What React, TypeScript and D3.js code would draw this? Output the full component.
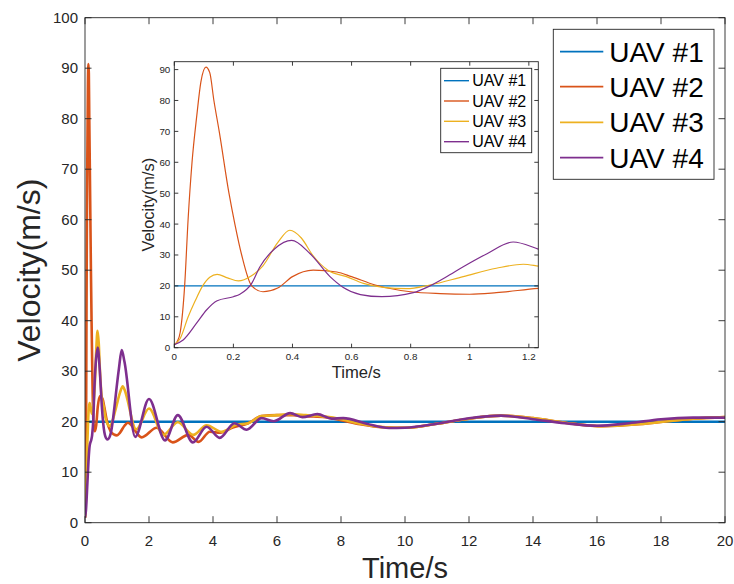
import React from 'react';
import * as d3 from 'd3';

const seriesNames = ['UAV #1', 'UAV #2', 'UAV #3', 'UAV #4'];
const seriesColors = ['#0072BD', '#D95319', '#EDB120', '#7E2F8E'];

const uav1T = [0, 20];
const uav1V = [20, 20];

const uav2T = [0, 0.01, 0.02, 0.035, 0.047, 0.06, 0.076, 0.09, 0.107, 0.12, 0.134, 0.152, 0.185, 0.205, 0.228, 0.262, 0.3, 0.35, 0.4, 0.47, 0.55, 0.6, 0.68, 0.8, 0.9, 1.0, 1.09, 1.232, 1.34, 1.77, 2.24, 2.74, 3.23, 3.55, 3.9, 4.22, 4.64, 5.1, 5.52, 6.0, 6.5, 6.9, 7.5, 8.0, 8.6, 9.3, 10.0, 11.0, 12.0, 13.0, 14.0, 15.0, 16.2, 17.5, 19.0, 20.0];
const uav2V = [1, 2, 5, 20, 42, 60, 75, 86, 90.8, 89, 80, 70, 50, 40, 30, 20, 18.1, 19.3, 23.0, 25.1, 24.5, 23.0, 20.3, 18.1, 17.5, 17.3, 17.8, 19.2, 19.8, 16.9, 18.8, 15.9, 17.4, 16.0, 18.0, 17.8, 18.9, 19.7, 21.1, 21.3, 21.3, 21.1, 20.9, 20.3, 19.5, 18.9, 18.8, 19.6, 20.6, 21.2, 20.7, 19.8, 19.1, 19.6, 20.6, 20.9];

const uav3T = [0, 0.02, 0.047, 0.07, 0.096, 0.12, 0.145, 0.18, 0.217, 0.26, 0.3, 0.35, 0.391, 0.43, 0.468, 0.521, 0.583, 0.64, 0.707, 0.786, 0.865, 0.978, 1.09, 1.181, 1.232, 1.6, 2.0, 2.45, 2.9, 3.38, 3.8, 4.27, 4.73, 5.1, 5.52, 6.0, 6.41, 6.9, 7.5, 8.0, 8.6, 9.4, 10.0, 11.0, 12.0, 13.0, 14.0, 15.0, 16.1, 17.5, 19.0, 20.0];
const uav3V = [1, 3, 10, 15, 20, 22.8, 23.7, 22.6, 21.6, 23.2, 26.5, 34.0, 38.0, 35.5, 30.0, 25.0, 23.0, 20.8, 19.5, 19.1, 20.3, 23.0, 25.7, 27.0, 26.4, 18.5, 22.6, 17.4, 19.9, 17.4, 19.3, 18.0, 19.4, 19.7, 21.1, 21.3, 21.5, 21.3, 21.0, 20.5, 19.6, 18.9, 18.8, 19.6, 20.6, 21.2, 20.7, 19.8, 19.1, 19.6, 20.6, 20.9];

const uav4T = [0, 0.03, 0.076, 0.109, 0.145, 0.2, 0.222, 0.262, 0.29, 0.34, 0.397, 0.459, 0.527, 0.572, 0.63, 0.702, 0.809, 0.865, 0.92, 0.978, 1.06, 1.147, 1.232, 1.57, 2.0, 2.5, 2.9, 3.37, 3.8, 4.21, 4.67, 5.05, 5.52, 5.9, 6.41, 6.79, 7.26, 7.71, 8.07, 8.8, 9.5, 10.0, 11.0, 12.0, 13.0, 14.0, 15.0, 16.0, 17.0, 18.0, 19.0, 20.0];
const uav4V = [1, 2.5, 8, 12.2, 15.2, 16.5, 17.3, 20.8, 26.2, 32.0, 34.7, 30.5, 23.0, 19.5, 17.2, 16.5, 17.8, 20.0, 22.9, 26.2, 30.5, 34.2, 31.9, 17.0, 24.5, 16.3, 21.3, 15.9, 19.0, 16.8, 19.7, 18.4, 20.7, 20.1, 21.7, 20.9, 21.5, 20.6, 20.7, 19.6, 18.75, 18.8, 19.6, 20.7, 21.2, 20.5, 19.7, 19.2, 19.7, 20.5, 20.8, 20.8];

const seriesT = [uav1T, uav2T, uav3T, uav4T];
const seriesV = [uav1V, uav2V, uav3V, uav4V];

const mainXTicks = [0, 2, 4, 6, 8, 10, 12, 14, 16, 18, 20];
const mainYTicks = [0, 10, 20, 30, 40, 50, 60, 70, 80, 90, 100];
const insetXTicks = [0, 0.2, 0.4, 0.6, 0.8, 1, 1.2];
const insetYTicks = [0, 10, 20, 30, 40, 50, 60, 70, 80, 90];

const FONT = '"Liberation Sans", Arial, Helvetica, sans-serif';
const AX = '#262626';

type Pt = [number, number];

function buildData(): Pt[][] {
  return seriesT.map((ts, i) => ts.map((t, j) => [t, seriesV[i][j]] as Pt));
}

function Frame(props: {
  x: d3.ScaleLinear<number, number>;
  y: d3.ScaleLinear<number, number>;
  xTicks: number[];
  yTicks: number[];
  tickLen: number;
  fontSize: number;
  xLabelGap: number;
  yLabelGap: number;
}) {
  const { x, y, xTicks, yTicks, tickLen, fontSize, xLabelGap, yLabelGap } = props;
  const [x0, x1] = x.range();
  const [y0, y1] = y.range();
  return (
    <g>
      <rect x={x0} y={y1} width={x1 - x0} height={y0 - y1} fill="none" stroke={AX} strokeWidth={0.9} />
      {xTicks.map((t) => (
        <g key={'xt' + t}>
          <line x1={x(t)} x2={x(t)} y1={y0} y2={y0 - tickLen} stroke={AX} strokeWidth={0.9} />
          <line x1={x(t)} x2={x(t)} y1={y1} y2={y1 + tickLen} stroke={AX} strokeWidth={0.9} />
          <text x={x(t)} y={y0 + xLabelGap} textAnchor="middle" fontSize={fontSize} fill={AX} fontFamily={FONT}>
            {String(t)}
          </text>
        </g>
      ))}
      {yTicks.map((t) => (
        <g key={'yt' + t}>
          <line x1={x0} x2={x0 + tickLen} y1={y(t)} y2={y(t)} stroke={AX} strokeWidth={0.9} />
          <line x1={x1} x2={x1 - tickLen} y1={y(t)} y2={y(t)} stroke={AX} strokeWidth={0.9} />
          <text x={x0 - yLabelGap} y={y(t) + fontSize * 0.35} textAnchor="end" fontSize={fontSize} fill={AX} fontFamily={FONT}>
            {String(t)}
          </text>
        </g>
      ))}
    </g>
  );
}

function Legend(props: { x0: number; y0: number; w: number; h: number; rowY: number[]; lineX0: number; lineX1: number; textX: number; fontSize: number; lw: number }) {
  const { x0, y0, w, h, rowY, lineX0, lineX1, textX, fontSize, lw } = props;
  return (
    <g>
      <rect x={x0} y={y0} width={w} height={h} fill="#fff" stroke={AX} strokeWidth={0.9} />
      {seriesNames.map((n, i) => (
        <g key={n}>
          <line x1={lineX0} x2={lineX1} y1={rowY[i]} y2={rowY[i]} stroke={seriesColors[i]} strokeWidth={lw} />
          <text x={textX} y={rowY[i] + fontSize * 0.357} fontSize={fontSize} fill="#000" fontFamily={FONT}>
            {n}
          </text>
        </g>
      ))}
    </g>
  );
}

export default function App() {
  const data = buildData();

  const xM = d3.scaleLinear().domain([0, 20]).range([85, 725]);
  const yM = d3.scaleLinear().domain([0, 100]).range([522.7, 17.7]);
  const xI = d3.scaleLinear().domain([0, 1.232]).range([174.3, 538.3]);
  const yI = d3.scaleLinear().domain([0, 92.55]).range([347.7, 61.7]);

  const lineM = d3.line<Pt>().x((d) => xM(d[0])).y((d) => yM(d[1])).curve(d3.curveMonotoneX);
  const lineI = d3.line<Pt>().x((d) => xI(d[0])).y((d) => yI(d[1])).curve(d3.curveMonotoneX);

  return (
    <svg width={734} height={584} style={{ position: 'absolute', left: 0, top: 0, background: '#fff' }}>
      <defs>
        <clipPath id="clipMain">
          <rect x={85} y={17.7} width={640} height={505} />
        </clipPath>
        <clipPath id="clipInset">
          <rect x={174.3} y={61.7} width={364} height={286} />
        </clipPath>
      </defs>
      <rect x={0} y={0} width={734} height={584} fill="#fff" />

      {/* main axes */}
      <g clipPath="url(#clipMain)">
        {data.map((d, i) => (
          <path key={'m' + i} d={lineM(d) || ''} fill="none" stroke={seriesColors[i]} strokeWidth={2.6} strokeLinejoin="round" />
        ))}
      </g>
      <Frame x={xM} y={yM} xTicks={mainXTicks} yTicks={mainYTicks} tickLen={6.5} fontSize={15} xLabelGap={23} yLabelGap={7} />
      <text
        transform={`translate(40,${(17.7 + 522.7) / 2}) rotate(-90)`}
        textAnchor="middle"
        fontSize={32}
        fill={AX}
        fontFamily={FONT}
      >
        Velocity(m/s)
      </text>
      <text x={405} y={578} textAnchor="middle" fontSize={29} fill={AX} fontFamily={FONT}>
        Time/s
      </text>
      <Legend x0={553.3} y0={29.3} w={160.7} h={150} rowY={[51.7, 86.7, 122.3, 157.7]} lineX0={560} lineX1={603.3} textX={609.3} fontSize={28} lw={1.8} />

      {/* inset axes */}
      <rect x={174.3} y={61.7} width={364} height={286} fill="#fff" />
      <g clipPath="url(#clipInset)">
        {data.map((d, i) => (
          <path key={'i' + i} d={lineI(d) || ''} fill="none" stroke={seriesColors[i]} strokeWidth={1.2} strokeLinejoin="round" />
        ))}
      </g>
      <Frame x={xI} y={yI} xTicks={insetXTicks} yTicks={insetYTicks} tickLen={4} fontSize={9.8} xLabelGap={12.5} yLabelGap={4} />
      <text
        transform={`translate(154.2,${(61.7 + 347.7) / 2}) rotate(-90)`}
        textAnchor="middle"
        fontSize={16.4}
        fill={AX}
        fontFamily={FONT}
      >
        Velocity(m/s)
      </text>
      <text x={356.3} y={378} textAnchor="middle" fontSize={16.6} fill={AX} fontFamily={FONT}>
        Time/s
      </text>
      <Legend x0={440.7} y0={68.3} w={91} h={84.4} rowY={[80.7, 101, 121.3, 141.7]} lineX0={444} lineX1={469} textX={472.3} fontSize={16} lw={1.4} />
    </svg>
  );
}
